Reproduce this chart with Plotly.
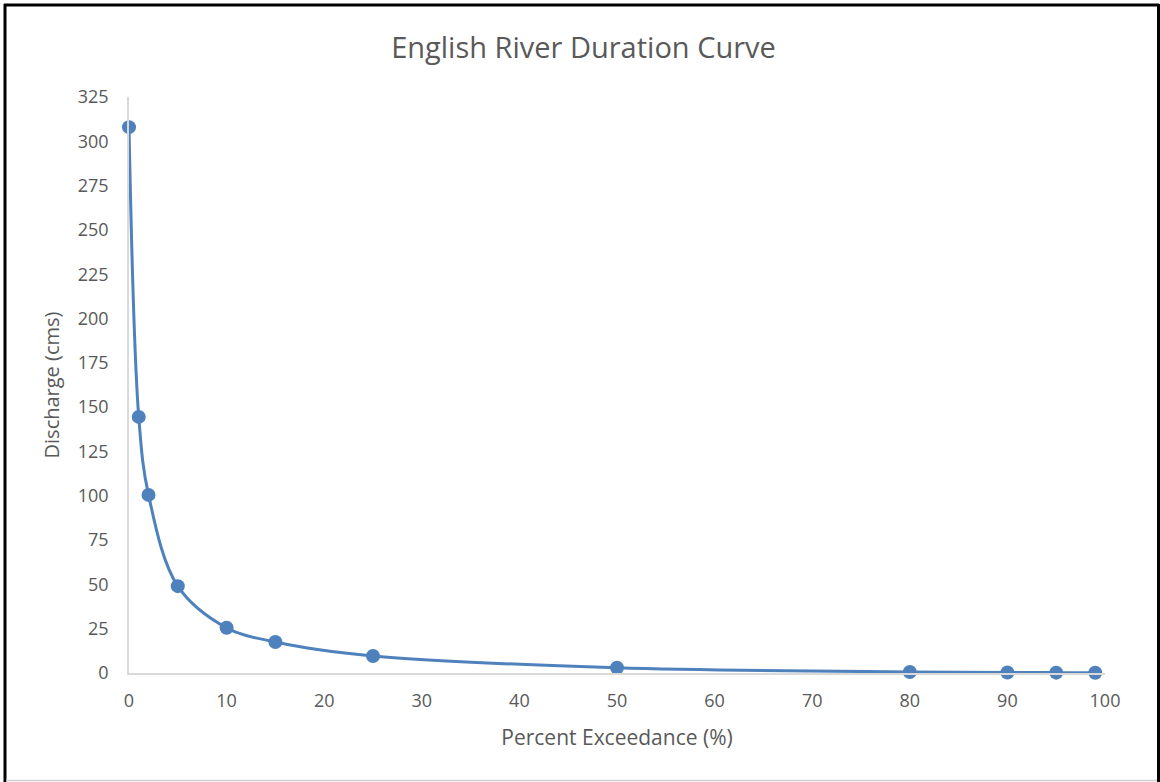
import plotly.graph_objects as go

# Flow duration data for the English River
exceedance_pct = [0, 1, 2, 5, 10, 15, 25, 50, 80, 90, 95, 99]
discharge_cms = [308, 144.5, 100.5, 49, 25.5, 17.5, 9.6, 3.0, 0.6, 0.3, 0.2, 0.1]

x_ticks = list(range(0, 101, 10))
y_ticks = list(range(0, 326, 25))

W, H = 1160, 782
L, R, T, B = 129, 55, 97, 109
pw, ph = W - L - R, H - T - B

def px_x(p):
    return (p - L) / pw

def px_y(p):
    return 1 - (p - T) / ph

text_col = "#595959"
font_fam = "'Open Sans', Lato, sans-serif"

fig = go.Figure(
    go.Scatter(
        x=exceedance_pct,
        y=discharge_cms,
        mode="lines+markers",
        line=dict(color="#4F81BD", width=3, shape="spline", smoothing=1),
        marker=dict(color="#4F81BD", size=14),
        showlegend=False,
        cliponaxis=False,
    )
)

fig.update_layout(
    width=W,
    height=H,
    margin=dict(l=L, r=R, t=T, b=B),
    paper_bgcolor="white",
    plot_bgcolor="white",
    font=dict(family=font_fam, color=text_col, size=18),
    title=dict(
        text="English River Duration Curve",
        x=0.503,
        xanchor="center",
        y=1 - 48 / H,
        yanchor="middle",
        font=dict(size=29, color=text_col, family=font_fam),
    ),
    xaxis=dict(
        range=[0, 100],
        tickvals=x_ticks,
        showgrid=False,
        zeroline=False,
        showline=True,
        linecolor="#D9D9D9",
        linewidth=1.5,
        ticks="",
        ticklabelstandoff=11,
        tickfont=dict(size=18),
        title=dict(text="Percent Exceedance (%)", font=dict(size=21), standoff=19),
    ),
    yaxis=dict(
        range=[0, 325],
        tickvals=y_ticks,
        showgrid=False,
        zeroline=False,
        showline=True,
        linecolor="#D9D9D9",
        linewidth=1.5,
        ticks="",
        ticklabelstandoff=15,
        tickfont=dict(size=18),
        title=dict(text="Discharge (cms)", font=dict(size=20), standoff=13),
    ),
    shapes=[
        # outer frame
        dict(type="line", xref="paper", yref="paper",
             x0=px_x(5), x1=px_x(5), y0=px_y(4), y1=px_y(782),
             line=dict(color="black", width=3)),
        dict(type="line", xref="paper", yref="paper",
             x0=px_x(4), x1=px_x(1159), y0=px_y(5), y1=px_y(5),
             line=dict(color="black", width=3)),
        dict(type="line", xref="paper", yref="paper",
             x0=px_x(1158.5), x1=px_x(1158.5), y0=px_y(4), y1=px_y(782),
             line=dict(color="black", width=3)),
        dict(type="line", xref="paper", yref="paper",
             x0=px_x(6), x1=px_x(1157), y0=px_y(780.5), y1=px_y(780.5),
             line=dict(color="#D0D0D0", width=1.5)),
    ],
)

fig.write_html("out.html")
